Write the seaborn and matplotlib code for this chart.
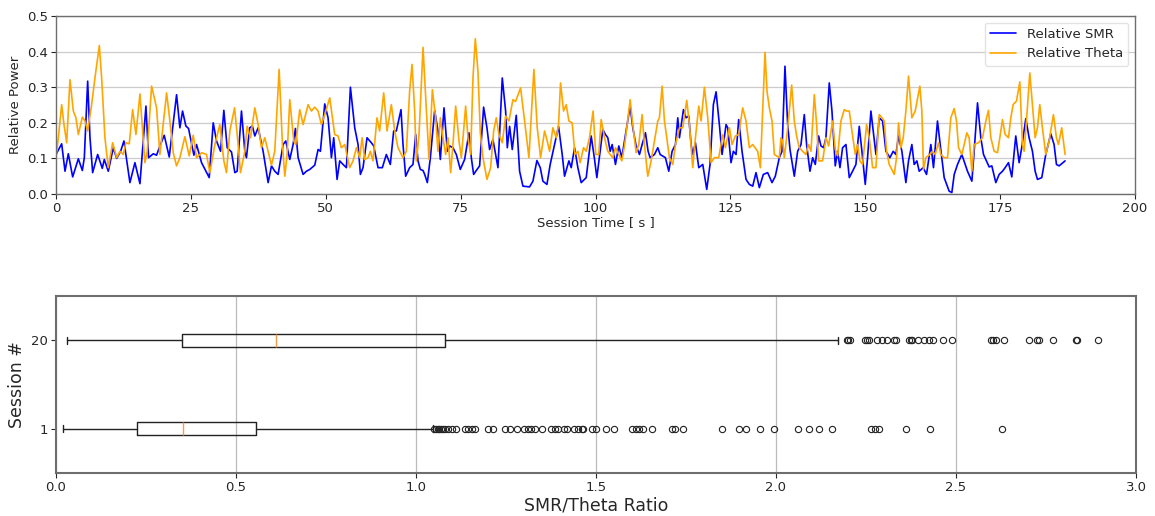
import matplotlib
matplotlib.use("Agg")
import matplotlib.pyplot as plt
import seaborn as sns
import pandas as pd

# ---------------- data: relative band power over session time ----------------
smr_time = [0.0, 1.05, 1.67, 2.28, 3.09, 4.14, 4.88, 5.25, 5.87, 6.3, 6.79, 7.72, 8.58, 8.95, 9.69,
            10.62, 11.24, 11.98, 12.59, 13.7, 14.63, 15.56, 16.67, 17.16, 18.03, 18.64, 19.26, 20.06,
            20.99, 22.35, 22.96, 23.46, 24.07, 24.57, 25.56, 26.05, 26.98, 28.4, 29.14, 29.75, 30.5,
            31.11, 31.73, 32.53, 33.15, 33.58, 34.38, 35.0, 35.3, 35.9, 36.4, 36.85, 37.47, 38.39,
            39.32, 39.94, 40.55, 41.17, 42.1, 42.59, 43.33, 43.95, 44.38, 44.88, 45.8, 46.42, 47.04,
            47.96, 48.58, 49.01, 49.81, 50.43, 51.05, 51.48, 52.1, 52.59, 53.21, 53.83, 54.57, 55.37,
            55.99, 56.42, 56.91, 57.65, 58.45, 58.89, 59.69, 60.49, 61.23, 61.97, 62.59, 63.08, 63.95,
            64.32, 64.81, 65.55, 66.17, 66.67, 67.1, 67.53, 68.03, 68.34, 68.83, 69.39, 70.19, 70.8,
            71.24, 71.92, 72.54, 72.97, 73.58, 74.2, 74.94, 75.74, 76.55, 76.98, 77.41, 77.9, 78.52,
            79.26, 79.88, 80.37, 80.99, 81.92, 82.72, 83.34, 83.65, 84.08, 84.57, 85.31, 85.93, 86.55,
            87.78, 88.4, 89.14, 89.76, 90.25, 91.0, 91.6, 92.41, 93.15, 93.83, 94.26, 95.07, 95.5,
            96.12, 96.73, 97.35, 98.28, 99.2, 99.8, 100.25, 100.86, 101.36, 101.85, 102.28, 102.72,
            103.09, 103.7, 104.32, 104.88, 105.56, 106.42, 106.91, 107.53, 108.15, 108.64, 109.26,
            109.75, 110.12, 110.93, 111.54, 111.98, 112.96, 113.58, 114.2, 114.82, 115.25, 115.56,
            116.3, 116.79, 117.28, 117.72, 118.02, 118.52, 119.14, 119.88, 120.62, 121.23, 121.85,
            122.35, 122.96, 123.46, 124.2, 124.51, 125.12, 125.56, 126.05, 126.54, 127.16, 127.9,
            128.52, 129.14, 129.75, 130.37, 131.11, 131.91, 132.72, 133.33, 134.07, 134.57, 135.12,
            135.62, 136.05, 136.85, 137.47, 138.09, 138.7, 139.13, 139.75, 140.25, 140.74, 141.36,
            141.79, 142.28, 142.71, 143.33, 143.83, 144.44, 144.88, 145.31, 145.8, 146.42, 147.04,
            147.65, 148.27, 148.89, 149.38, 150.0, 150.43, 151.05, 151.48, 151.98, 152.59, 153.21,
            153.83, 154.57, 155.18, 155.68, 156.17, 156.79, 157.53, 158.02, 158.64, 159.07, 159.57,
            160.0, 160.74, 161.36, 162.16, 162.65, 163.39, 163.89, 164.63, 165.55, 166.05, 166.49,
            167.1, 167.9, 168.52, 168.95, 169.76, 170.19, 170.81, 171.42, 171.92, 172.47, 172.97,
            173.46, 174.2, 174.82, 175.44, 175.93, 176.55, 177.16, 177.9, 178.52, 179.0, 179.76,
            180.37, 180.99, 181.49, 181.92, 182.72, 183.46, 184.39, 185.0, 185.44, 185.93, 187.04]
smr_power = [0.111, 0.141, 0.064, 0.113, 0.048, 0.099, 0.066, 0.102, 0.317, 0.158, 0.06, 0.111, 0.072,
             0.097, 0.064, 0.13, 0.10, 0.12, 0.149, 0.032, 0.088, 0.029, 0.247, 0.102, 0.113, 0.109,
             0.135, 0.165, 0.104, 0.279, 0.186, 0.233, 0.191, 0.184, 0.109, 0.139, 0.088, 0.046, 0.2,
             0.149, 0.12, 0.235, 0.13, 0.118, 0.06, 0.064, 0.233, 0.12, 0.102, 0.186, 0.191, 0.163,
             0.186, 0.12, 0.032, 0.079, 0.064, 0.055, 0.139, 0.149, 0.097, 0.139, 0.184, 0.102, 0.055,
             0.064, 0.069, 0.081, 0.125, 0.12, 0.253, 0.214, 0.102, 0.158, 0.041, 0.093, 0.083, 0.074,
             0.3, 0.186, 0.139, 0.055, 0.074, 0.158, 0.144, 0.135, 0.074, 0.074, 0.111, 0.083, 0.177,
             0.177, 0.237, 0.139, 0.05, 0.074, 0.083, 0.167, 0.093, 0.069, 0.066, 0.055, 0.032, 0.102,
             0.235, 0.177, 0.097, 0.242, 0.12, 0.135, 0.130, 0.111, 0.069, 0.097, 0.172, 0.102, 0.055,
             0.066, 0.079, 0.244, 0.186, 0.125, 0.153, 0.074, 0.326, 0.233, 0.13, 0.19, 0.125, 0.221,
             0.064, 0.022, 0.02, 0.036, 0.094, 0.074, 0.036, 0.027, 0.083, 0.139, 0.19, 0.111, 0.05,
             0.093, 0.074, 0.13, 0.074, 0.032, 0.046, 0.163, 0.1, 0.046, 0.12, 0.181, 0.167, 0.158,
             0.12, 0.139, 0.083, 0.135, 0.102, 0.167, 0.247, 0.186, 0.135, 0.111, 0.139, 0.172, 0.12,
             0.102, 0.111, 0.13, 0.111, 0.102, 0.064, 0.120, 0.139, 0.214, 0.158, 0.237, 0.214, 0.219,
             0.139, 0.111, 0.144, 0.074, 0.083, 0.013, 0.083, 0.251, 0.287, 0.195, 0.111, 0.195, 0.186,
             0.088, 0.12, 0.111, 0.209, 0.12, 0.041, 0.027, 0.022, 0.06, 0.018, 0.055, 0.06, 0.032,
             0.05, 0.102, 0.12, 0.359, 0.195, 0.125, 0.05, 0.12, 0.139, 0.223, 0.139, 0.064, 0.102,
             0.083, 0.163, 0.135, 0.13, 0.158, 0.312, 0.233, 0.079, 0.120, 0.074, 0.13, 0.139, 0.046,
             0.064, 0.083, 0.19, 0.12, 0.027, 0.102, 0.233, 0.177, 0.111, 0.214, 0.205, 0.12, 0.102,
             0.12, 0.111, 0.163, 0.12, 0.032, 0.093, 0.139, 0.083, 0.093, 0.064, 0.074, 0.055, 0.139,
             0.074, 0.205, 0.139, 0.046, 0.008, 0.004, 0.055, 0.083, 0.111, 0.083, 0.064, 0.036, 0.12,
             0.256, 0.158, 0.111, 0.093, 0.076, 0.079, 0.032, 0.055, 0.064, 0.074, 0.088, 0.048, 0.163,
             0.088, 0.13, 0.212, 0.158, 0.12, 0.064, 0.041, 0.046, 0.111, 0.169, 0.139, 0.083, 0.079,
             0.093]

theta_time = [0.0, 0.43, 1.05, 1.48, 1.98, 2.59, 3.21, 3.7, 4.14, 4.88, 5.37, 5.87, 6.6, 7.22, 8.03,
              8.46, 9.07, 9.69, 10.5, 11.24, 11.85, 12.47, 12.96, 13.58, 14.2, 14.82, 15.56, 16.48,
              16.91, 17.72, 18.64, 19.26, 20.5, 21.11, 21.73, 22.35, 22.96, 23.89, 24.69, 25.43, 26.05,
              26.98, 27.9, 28.52, 29.45, 30.37, 31.11, 31.6, 32.22, 33.1, 33.76, 34.2, 35.0, 35.43,
              36.05, 36.85, 37.47, 38.08, 38.7, 39.32, 39.94, 40.55, 41.36, 41.97, 42.41, 42.84, 43.33,
              44.07, 44.44, 45.18, 45.8, 46.73, 47.34, 47.96, 48.58, 49.2, 49.81, 50.74, 51.66, 52.28,
              52.9, 53.52, 54.44, 55.06, 55.68, 56.29, 56.73, 57.22, 57.84, 58.27, 58.76, 59.5, 59.99,
              60.74, 61.36, 62.16, 62.78, 63.39, 64.32, 64.94, 65.55, 65.99, 66.48, 66.79, 67.29, 68.03,
              68.65, 69.14, 69.76, 70.37, 70.8, 71.24, 71.73, 72.23, 72.66, 73.15, 73.58, 74.08, 74.7,
              75.13, 75.93, 76.36, 76.86, 77.29, 77.72, 78.21, 78.65, 79.14, 79.88, 80.56, 81.12, 81.61,
              82.1, 82.72, 83.34, 83.95, 84.7, 85.19, 86.11, 86.86, 87.66, 88.58, 89.2, 89.82, 90.56,
              91.05, 91.49, 92.1, 92.72, 93.15, 93.52, 94.08, 94.57, 95.07, 95.68, 96.18, 96.73, 97.16,
              97.78, 98.28, 98.89, 99.55, 100.05, 100.6, 101.05, 101.67, 102.28, 102.72, 103.21, 103.7,
              104.32, 104.88, 105.37, 105.8, 106.42, 106.91, 107.53, 108.02, 108.64, 109.07, 109.69,
              110.31, 110.93, 111.54, 111.85, 112.35, 112.78, 113.21, 113.7, 114.32, 114.82, 115.56,
              116.17, 116.91, 117.41, 118.02, 118.52, 119.14, 119.57, 120.19, 120.8, 121.42, 122.04,
              122.84, 123.58, 124.07, 124.82, 125.31, 125.93, 126.54, 127.28, 127.9, 128.52, 129.14,
              130.06, 130.56, 130.99, 131.42, 131.79, 132.22, 132.72, 133.15, 134.07, 134.38, 134.69,
              134.99, 135.43, 135.92, 136.36, 136.85, 137.28, 137.78, 138.39, 139.01, 139.5, 139.94,
              140.56, 140.99, 141.36, 142.1, 142.72, 143.21, 143.95, 144.44, 144.88, 145.49, 146.11,
              146.54, 147.04, 147.53, 148.15, 148.58, 149.01, 149.5, 150.25, 150.74, 151.36, 151.98,
              152.59, 153.09, 153.52, 153.95, 154.44, 155.37, 155.8, 156.17, 156.6, 157.04, 157.53,
              158.02, 158.64, 159.26, 160.12, 160.49, 160.8, 161.23, 161.97, 162.47, 162.96, 163.58,
              164.01, 164.63, 165.25, 165.86, 166.48, 166.92, 167.29, 167.9, 168.34, 168.83, 169.26,
              169.76, 170.19, 170.99, 171.73, 172.35, 172.84, 173.28, 173.89, 174.51, 174.94, 175.44,
              175.93, 176.55, 176.98, 177.41, 178.03, 178.65, 179.14, 179.45, 179.88, 180.5, 180.99,
              181.49, 181.92, 182.35, 182.84, 183.46, 184.08, 184.88, 185.44, 185.81, 186.42, 187.04]
theta_power = [0.102, 0.158, 0.251, 0.195, 0.144, 0.321, 0.233, 0.214, 0.167, 0.216, 0.205, 0.177, 0.251,
               0.326, 0.417, 0.326, 0.158, 0.074, 0.144, 0.102, 0.12, 0.111, 0.144, 0.141, 0.237, 0.167,
               0.281, 0.088, 0.12, 0.303, 0.242, 0.111, 0.284, 0.205, 0.116, 0.079, 0.102, 0.161, 0.107,
               0.165, 0.102, 0.116, 0.111, 0.06, 0.139, 0.195, 0.093, 0.06, 0.177, 0.242, 0.139, 0.06,
               0.12, 0.19, 0.158, 0.242, 0.195, 0.130, 0.158, 0.12, 0.081, 0.12, 0.35, 0.139, 0.05,
               0.111, 0.265, 0.149, 0.139, 0.237, 0.195, 0.251, 0.233, 0.244, 0.233, 0.195, 0.223, 0.27,
               0.167, 0.163, 0.130, 0.139, 0.074, 0.093, 0.13, 0.102, 0.158, 0.097, 0.102, 0.12, 0.093,
               0.214, 0.177, 0.284, 0.177, 0.251, 0.177, 0.13, 0.102, 0.12, 0.289, 0.364, 0.233, 0.093,
               0.167, 0.412, 0.233, 0.097, 0.293, 0.214, 0.12, 0.214, 0.158, 0.111, 0.158, 0.06, 0.139,
               0.247, 0.149, 0.102, 0.247, 0.158, 0.111, 0.326, 0.436, 0.345, 0.172, 0.102, 0.041, 0.074,
               0.177, 0.214, 0.167, 0.144, 0.219, 0.205, 0.265, 0.26, 0.298, 0.205, 0.102, 0.35, 0.186,
               0.102, 0.177, 0.149, 0.12, 0.186, 0.158, 0.195, 0.312, 0.233, 0.251, 0.205, 0.2, 0.111,
               0.12, 0.088, 0.13, 0.12, 0.158, 0.233, 0.111, 0.111, 0.209, 0.158, 0.12, 0.111, 0.102,
               0.130, 0.111, 0.093, 0.135, 0.186, 0.265, 0.195, 0.116, 0.139, 0.223, 0.139, 0.05, 0.093,
               0.149, 0.205, 0.214, 0.303, 0.205, 0.158, 0.102, 0.083, 0.139, 0.186, 0.186, 0.263, 0.195,
               0.074, 0.158, 0.247, 0.205, 0.3, 0.214, 0.088, 0.102, 0.102, 0.167, 0.13, 0.186, 0.139,
               0.163, 0.167, 0.242, 0.205, 0.13, 0.139, 0.12, 0.074, 0.233, 0.398, 0.289, 0.242, 0.205,
               0.111, 0.102, 0.158, 0.149, 0.102, 0.158, 0.233, 0.306, 0.205, 0.163, 0.13, 0.12, 0.111,
               0.139, 0.12, 0.279, 0.195, 0.093, 0.093, 0.158, 0.135, 0.205, 0.125, 0.107, 0.205, 0.237,
               0.233, 0.233, 0.177, 0.111, 0.139, 0.093, 0.083, 0.195, 0.158, 0.074, 0.074, 0.223, 0.214,
               0.205, 0.12, 0.083, 0.055, 0.102, 0.2, 0.13, 0.158, 0.233, 0.331, 0.214, 0.233, 0.303,
               0.233, 0.069, 0.102, 0.111, 0.12, 0.111, 0.144, 0.111, 0.102, 0.102, 0.214, 0.24, 0.205,
               0.130, 0.111, 0.139, 0.172, 0.158, 0.064, 0.139, 0.144, 0.158, 0.205, 0.235, 0.158, 0.120,
               0.116, 0.158, 0.209, 0.167, 0.158, 0.214, 0.251, 0.261, 0.315, 0.139, 0.12, 0.205, 0.34,
               0.251, 0.158, 0.186, 0.251, 0.186, 0.111, 0.149, 0.223, 0.158, 0.139, 0.186, 0.111]

# ---------------- data: SMR/Theta ratio box statistics per session ----------------
session_labels = ["1", "20"]
box_q1 = [0.224, 0.349]
box_median = [0.354, 0.612]
box_q3 = [0.555, 1.081]
whisker_low = [0.020, 0.031]
whisker_high = [1.046, 2.172]
fliers_session1 = [1.05, 1.055, 1.06, 1.065, 1.07, 1.075, 1.08, 1.09, 1.10, 1.11, 1.135, 1.145, 1.155,
                   1.165, 1.20, 1.215, 1.247, 1.26, 1.28, 1.30, 1.31, 1.32, 1.33, 1.35, 1.375, 1.385,
                   1.395, 1.41, 1.42, 1.44, 1.45, 1.46, 1.465, 1.49, 1.50, 1.528, 1.551, 1.60, 1.61,
                   1.62, 1.63, 1.656, 1.712, 1.72, 1.742, 1.85, 1.897, 1.916, 1.955, 1.995, 2.06, 2.093,
                   2.12, 2.156, 2.265, 2.275, 2.287, 2.36, 2.428, 2.627]
fliers_session20 = [2.196, 2.201, 2.206, 2.247, 2.252, 2.257, 2.28, 2.294, 2.309, 2.328, 2.333, 2.369,
                    2.374, 2.379, 2.394, 2.41, 2.425, 2.435, 2.463, 2.488, 2.596, 2.603, 2.611, 2.632,
                    2.703, 2.725, 2.73, 2.769, 2.832, 2.837, 2.895]

# ---------------- styling ----------------
sns.set_style("ticks")
plt.rcParams.update({
    "font.family": ["DejaVu Sans"],
    "text.color": "#262626",
    "axes.labelcolor": "#262626",
    "xtick.color": "#262626",
    "ytick.color": "#262626",
    "axes.edgecolor": "#6e6e6e",
})

fig = plt.figure(figsize=(11.55, 5.16), dpi=100)
ax1 = fig.add_axes([56 / 1155, 1 - 194 / 516, 1079 / 1155, 178 / 516])
ax2 = fig.add_axes([56 / 1155, 1 - 473 / 516, 1080 / 1155, 177 / 516])

# ---------------- top: time series ----------------
smr_df = pd.DataFrame({"time": smr_time, "power": smr_power})
theta_df = pd.DataFrame({"time": theta_time, "power": theta_power})
sns.lineplot(data=smr_df, x="time", y="power", ax=ax1, color="blue", lw=1.2,
             label="Relative SMR", estimator=None)
sns.lineplot(data=theta_df, x="time", y="power", ax=ax1, color="orange", lw=1.2,
             label="Relative Theta", estimator=None)
ax1.set_xlim(0, 200)
ax1.set_ylim(0, 0.5)
ax1.set_xticks([0, 25, 50, 75, 100, 125, 150, 175, 200])
ax1.set_yticks([0.0, 0.1, 0.2, 0.3, 0.4, 0.5])
ax1.yaxis.grid(True, color="#cccccc", lw=0.9)
ax1.set_axisbelow(True)
ax1.set_xlabel("Session Time [ s ]", fontsize=9.5, labelpad=1)
ax1.set_ylabel("Relative Power", fontsize=9.5, labelpad=4)
ax1.tick_params(labelsize=9.5, length=3.5, width=0.8, pad=2)
for s in ax1.spines.values():
    s.set_linewidth(1.0)
leg = ax1.legend(loc="upper right", fontsize=9.5, frameon=True, handlelength=2.0)
leg.get_frame().set_edgecolor("#dddddd")

# ---------------- bottom: horizontal boxplots ----------------
stats = []
for i, lab in enumerate(session_labels):
    fl = fliers_session1 if i == 0 else fliers_session20
    stats.append({"label": lab, "q1": box_q1[i], "med": box_median[i], "q3": box_q3[i],
                  "whislo": whisker_low[i], "whishi": whisker_high[i], "fliers": fl})

ax2.bxp(stats, positions=[1, 2], widths=0.15, orientation="horizontal",
        boxprops=dict(color="#222222", lw=1.0),
        whiskerprops=dict(color="#222222", lw=1.0),
        capprops=dict(color="#222222", lw=1.0),
        medianprops=dict(color="#f59b4f", lw=1.0),
        flierprops=dict(marker="o", markerfacecolor="none", markeredgecolor="#222222",
                        markersize=4.5, markeredgewidth=0.8))
ax2.set_xlim(0, 3.0)
ax2.set_ylim(0.5, 2.5)
ax2.set_xticks([0.0, 0.5, 1.0, 1.5, 2.0, 2.5, 3.0])
ax2.set_xticklabels(["0.0", "0.5", "1.0", "1.5", "2.0", "2.5", "3.0"])
ax2.set_yticks([1, 2])
ax2.set_yticklabels(session_labels)
ax2.xaxis.grid(True, color="#bbbbbb", lw=0.9)
ax2.set_axisbelow(True)
ax2.set_xlabel("SMR/Theta Ratio", fontsize=12.5, labelpad=2)
ax2.set_ylabel("Session #", fontsize=12.5, labelpad=4)
ax2.tick_params(labelsize=9.5, length=3.5, width=0.8, pad=2)
for s in ax2.spines.values():
    s.set_linewidth(1.5)

fig.savefig("out.png", dpi=100)
